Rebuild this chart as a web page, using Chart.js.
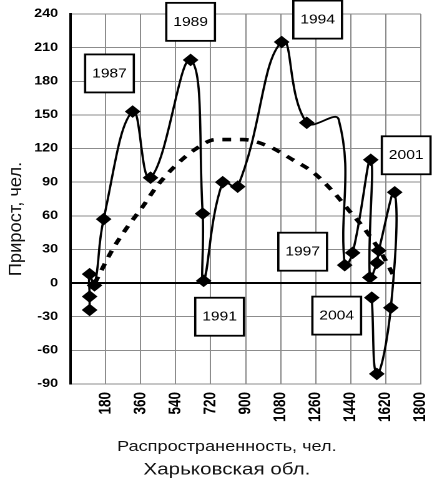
<!DOCTYPE html>
<html>
<head>
<meta charset="utf-8">
<script src="https://cdn.jsdelivr.net/npm/chart.js@4/dist/chart.umd.min.js"></script>
<style>
  html, body { margin: 0; padding: 0; background: #fff; overflow: hidden; }
  canvas { display: block; }
</style>
</head>
<body>
<!-- drawn on a narrower canvas and widened by CSS -->
<canvas id="chart" width="346" height="484" style="width:432px;height:484px"></canvas>
<script>
// Распространенность (чел.) и прирост (чел.) по годам, в хронологическом порядке
const prevalence = [98, 98, 98, 123, 170, 319, 411, 617, 679, 684, 782, 859, 1085, 1214, 1378, 1409, 1450, 1543, 1538, 1574, 1584, 1666, 1646, 1574, 1548];
const growth     = [-24, -12, 8, -2, 57, 153, 94, 199, 62, 2, 90, 86, 215, 143, 146, 16, 27, 110, 5, 18, 29, 81, -22, -81, -13];
// points of the line that carry no marker
const unmarked = [14];

// линия тренда
const trendX = [125, 216, 288, 370, 442, 535, 638, 746, 885, 1018, 1142, 1245, 1347, 1430, 1517, 1600, 1665];
const trendY = [0, 30, 49, 68, 86, 104, 119, 128, 128, 122, 110, 99, 82, 65, 47, 26, 5];

// деления осей
const xTicks = [180, 360, 540, 720, 900, 1080, 1260, 1440, 1620, 1800];
const yTicks = [-90, -60, -30, 0, 30, 60, 90, 120, 150, 180, 210, 240];

// подписи годов
const yearLabels = ['1987', '1989', '1991', '1994', '1997', '2001', '2004'];
const yearLabelX = [200, 617, 766, 1270, 1193, 1725, 1368];
const yearLabelY = [187, 233, -30, 235, 28, 114, -29];

const xTitle = 'Распространенность, чел.';
const yTitle = 'Прирост, чел.';
const regionTitle = 'Харьковская обл.';

const FONT = "'Liberation Sans', Arial, sans-serif";

const annotations = {
  id: 'annotations',
  afterDraw(chart) {
    const { ctx, scales: { x, y } } = chart;
    ctx.save();
    // year boxes
    ctx.font = '12.5px ' + FONT;
    ctx.textAlign = 'center';
    ctx.textBaseline = 'middle';
    yearLabels.forEach((t, i) => {
      const cx = x.getPixelForValue(yearLabelX[i]);
      const cy = y.getPixelForValue(yearLabelY[i]);
      const w = 39, h = 38;
      ctx.fillStyle = '#fff';
      ctx.fillRect(cx - w / 2, cy - h / 2, w, h);
      ctx.lineWidth = 1.8;
      ctx.strokeStyle = '#000';
      ctx.strokeRect(cx - w / 2, cy - h / 2, w, h);
      ctx.fillStyle = '#000';
      ctx.fillText(t, cx, cy + 0.5);
    });
    // axis titles and caption
    ctx.fillStyle = '#111';
    ctx.font = '14.5px ' + FONT;
    ctx.fillText(xTitle, 181.7, 447);
    ctx.font = '16.5px ' + FONT;
    ctx.fillText(regionTitle, 181.7, 470);
    ctx.font = '15px ' + FONT;
    ctx.translate(12.8, 219);
    ctx.rotate(-Math.PI / 2);
    ctx.scale(1.22, 1);
    ctx.fillText(yTitle, 0, 0);
    ctx.restore();
  }
};

new Chart(document.getElementById('chart'), {
  type: 'scatter',
  data: {
    datasets: [
      {
        label: yTitle,
        data: prevalence.map((v, i) => ({ x: v, y: growth[i] })),
        showLine: true,
        borderColor: '#000',
        borderWidth: 1.8,
        tension: 0.45,
        pointStyle: 'rectRot',
        pointRadius: c => unmarked.includes(c.dataIndex) ? 0 : 5.6,
        pointBackgroundColor: '#000',
        pointBorderColor: '#000',
        pointBorderWidth: 1,
        order: 1
      },
      {
        label: 'Тренд',
        data: trendX.map((v, i) => ({ x: v, y: trendY[i] })),
        showLine: true,
        borderColor: '#000',
        borderWidth: 3.6,
        borderDash: [7, 7],
        pointRadius: 0,
        cubicInterpolationMode: 'monotone',
        order: 2
      }
    ]
  },
  options: {
    responsive: false,
    animation: false,
    devicePixelRatio: 2,
    layout: { padding: { top: 14, right: 9, left: 0, bottom: 0 } },
    plugins: { legend: { display: false }, tooltip: { enabled: false }, title: { display: false } },
    scales: {
      x: {
        type: 'linear',
        min: 0,
        max: 1800,
        afterBuildTicks: s => { s.ticks = [0, ...xTicks].map(v => ({ value: v })); },
        afterFit: s => { s.height = 100; s.paddingLeft = 0; s.paddingRight = 0; },
        ticks: {
          autoSkip: false,
          minRotation: 90,
          maxRotation: 90,
          padding: 8,
          color: '#000',
          font: { family: FONT, size: 13.5, weight: 'bold' },
          callback: v => v === 0 ? '' : String(v)
        },
        grid: { color: '#8c8c8c', lineWidth: 1, drawTicks: false },
        border: { display: true, color: '#8c8c8c', width: 1 }
      },
      y: {
        min: -90,
        max: 240,
        afterBuildTicks: s => { s.ticks = yTicks.map(v => ({ value: v })); },
        afterFit: s => { s.width = 56.5; s.paddingTop = 0; s.paddingBottom = 0; },
        ticks: {
          padding: 10,
          color: '#000',
          font: { family: FONT, size: 11.5, weight: 'bold' }
        },
        grid: {
          color: c => (c.tick && c.tick.value === 0) ? '#000' : '#8c8c8c',
          lineWidth: c => (c.tick && c.tick.value === 0) ? 2 : 1,
          drawTicks: false
        },
        border: { display: true, color: '#000', width: 2 }
      }
    }
  },
  plugins: [annotations]
});
</script>
</body>
</html>
